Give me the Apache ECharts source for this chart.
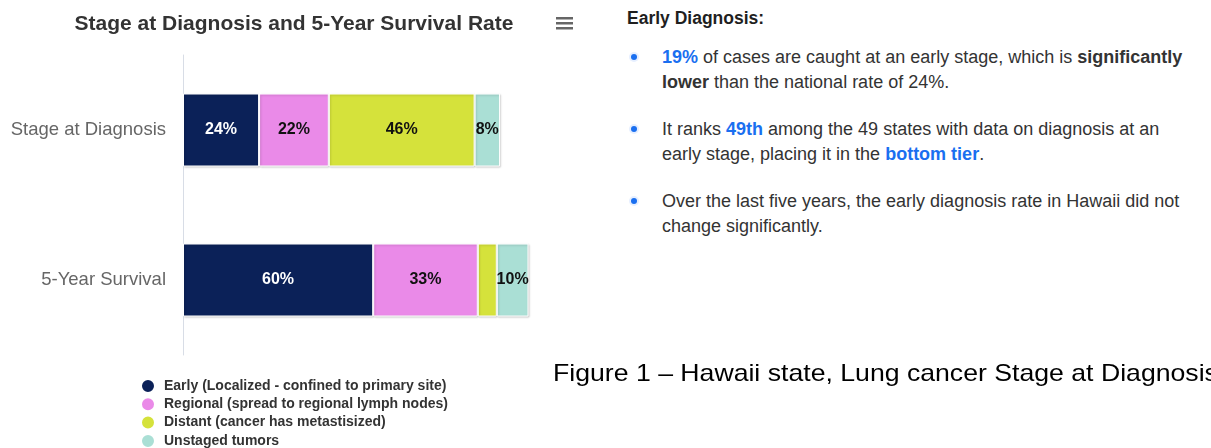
<!DOCTYPE html>
<html>
<head>
<meta charset="utf-8">
<script src="https://cdn.jsdelivr.net/npm/echarts@6/dist/echarts.min.js"></script>
<style>
  body { margin: 0; background: #fff; width: 1211px; height: 448px; overflow: hidden; position: relative; }
  #chart { position: absolute; left: 0; top: 0; width: 600px; height: 480px; }
  .notes { position: absolute; left: 627px; top: 8px; font-family: "Liberation Sans", Arial, sans-serif; color: #333; font-size: 18px; white-space: nowrap; }
  .notes h3 { margin: 0 0 17px 0; font-family: "Liberation Sans Narrow", "Liberation Sans", Arial, sans-serif; font-size: 17.5px; line-height: 20px; font-weight: bold; color: #1f1f1f; }
  .notes ul { margin: 0; padding: 0; list-style: none; }
  .notes li { position: relative; padding-left: 35px; line-height: 25px; margin-bottom: 22px; }
  .notes li::before { content: ""; position: absolute; left: 4px; top: 9px; width: 6px; height: 6px; border-radius: 50%; background: #1a6ff0; box-shadow: 0 0 0 2px #e6efff; }
  .blue { color: #1a6ff0; font-weight: bold; }
  .caption { position: absolute; left: 553px; top: 359px; font-family: "Liberation Sans", Arial, sans-serif; font-size: 24px; line-height: 28px; color: #000; white-space: nowrap; transform: scaleX(1.11); transform-origin: left top; }
</style>
</head>
<body>
<div id="chart"></div>
<div class="notes">
  <h3>Early Diagnosis:</h3>
  <ul>
    <li><span class="blue">19%</span> of cases are caught at an early stage, which is <b>significantly</b><br><b>lower</b> than the national rate of 24%.</li>
    <li>It ranks <span class="blue">49th</span> among the 49 states with data on diagnosis at an<br>early stage, placing it in the <span class="blue">bottom tier</span>.</li>
    <li>Over the last five years, the early diagnosis rate in Hawaii did not<br>change significantly.</li>
  </ul>
</div>
<div class="caption">Figure 1 – Hawaii state, Lung cancer Stage at Diagnosis</div>
<script>
// categories and series (percent)
var categories = ["Stage at Diagnosis", "5-Year Survival"];
var seriesNames = [
  "Early (Localized - confined to primary site)",
  "Regional (spread to regional lymph nodes)",
  "Distant (cancer has metastisized)",
  "Unstaged tumors"
];
var earlyVals = [24, 60];
var regionalVals = [22, 33];
var distantVals = [46, 6];
var unstagedVals = [8, 10];
var colors = ["#0b2158", "#ea8ae8", "#d5e23b", "#aadfd5"];
var labelColors = ["#ffffff", "#111111", "#111111", "#111111"];

var chart = echarts.init(document.getElementById("chart"));
var allVals = [earlyVals, regionalVals, distantVals, unstagedVals];
var font = "Liberation Sans, Arial, sans-serif";

var series = seriesNames.map(function (name, i) {
  return {
    name: name,
    type: "bar",
    stack: "total",
    barWidth: 73,
    data: allVals[i],
    itemStyle: {
      color: colors[i],
      borderColor: "#ffffff",
      borderWidth: 1,
      shadowColor: "rgba(0,0,0,0.18)",
      shadowBlur: 2,
      shadowOffsetX: 1,
      shadowOffsetY: 1
    },
    label: {
      show: true,
      position: "inside",
      fontFamily: font,
      fontSize: 16,
      fontWeight: "bold",
      color: labelColors[i],
      // small segments are left without a label, as in the source
      formatter: function (p) { return p.value >= 8 ? p.value + "%" : ""; }
    }
  };
});

chart.setOption({
  animation: false,
  color: colors,
  title: {
    text: "Stage at Diagnosis and 5-Year Survival Rate",
    left: 289,
    textAlign: "center",
    top: 9,
    textStyle: { fontFamily: font, fontSize: 21, fontWeight: "bold", color: "#333333" }
  },
  graphic: [
    { type: "rect", left: 556, top: 17, shape: { width: 17, height: 2.5 }, style: { fill: "#666" } },
    { type: "rect", left: 556, top: 22, shape: { width: 17, height: 2.5 }, style: { fill: "#666" } },
    { type: "rect", left: 556, top: 27, shape: { width: 17, height: 2.5 }, style: { fill: "#666" } }
  ],
  legend: {
    orient: "vertical",
    left: 140,
    top: 378,
    padding: 0,
    itemGap: 2.3,
    itemWidth: 14,
    itemHeight: 14,
    icon: "circle",
    textStyle: { fontFamily: font, fontSize: 14, lineHeight: 15.5, fontWeight: "bold", color: "#333333", padding: [0, 0, 0, 4] }
  },
  grid: { left: 183, top: 55, width: 364.5, height: 300, containLabel: false },
  xAxis: {
    type: "value",
    min: 0,
    max: 115,
    show: false
  },
  yAxis: {
    type: "category",
    data: categories,
    inverse: true,
    axisLine: { show: true, lineStyle: { color: "#d8dde6", width: 1 } },
    axisTick: { show: false },
    axisLabel: { margin: 17, fontFamily: font, fontSize: 18.5, color: "#666666" }
  },
  series: series
});
</script>
</body>
</html>
